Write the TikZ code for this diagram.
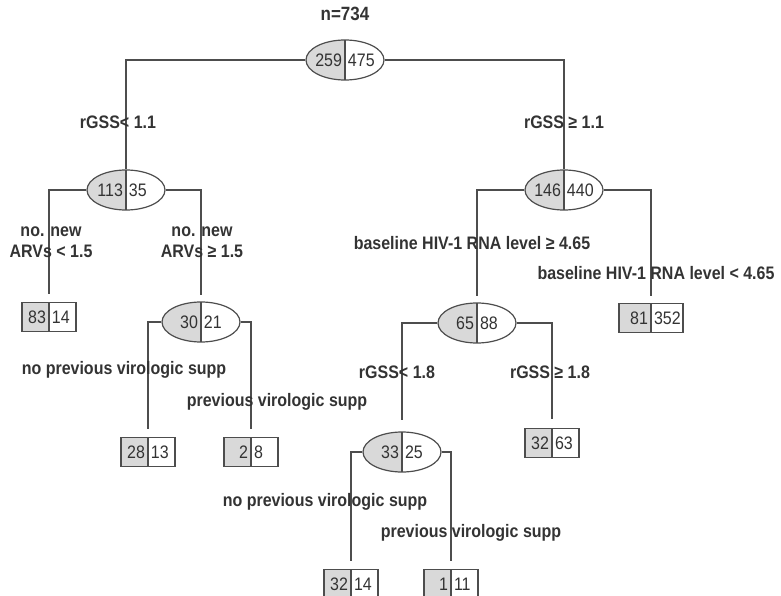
\documentclass[tikz,border=0pt]{standalone}
\usepackage{fontspec}
\usepackage{graphicx}
\setmainfont{Liberation Sans}
\usetikzlibrary{shapes.geometric}
\definecolor{ink}{HTML}{333333}
\definecolor{edgegrey}{HTML}{4D4D4D}
\definecolor{cellgrey}{HTML}{D9D9D9}
% the scan's letters stand a little taller than they are wide
\newcommand{\tall}[1]{\scalebox{1}[1.13]{#1}}
% two counts, split at the node's centre
\newcommand{\nums}[2]{\tall{\makebox[20pt][r]{#1\hspace{3pt}}\makebox[20pt][l]{\hspace{3pt}#2}}}
\newcommand{\twoline}[2]{\tall{\begin{tabular}{@{}c@{}}#1\\#2\end{tabular}}}
\tikzset{
  every node/.style={font=\fontsize{16}{18}\selectfont,text=ink},
  halves/.style={path picture={
    \fill[cellgrey] (path picture bounding box.south west) rectangle (path picture bounding box.north);
    \draw[edgegrey,line width=1.2pt] (path picture bounding box.south) -- (path picture bounding box.north);}},
  split/.style={ellipse,draw=edgegrey,fill=white,line width=1.2pt,halves,
    minimum width=78pt,minimum height=40pt,inner sep=0pt},
  leaf/.style={rectangle,draw=edgegrey,fill=white,line width=1.2pt,halves,
    minimum width=54pt,minimum height=29pt,inner sep=0pt},
  branch/.style={draw=edgegrey,line width=1.1pt},
  cut/.style={font=\fontsize{16}{18}\selectfont\bfseries,inner sep=0pt}}

\begin{document}
\begin{tikzpicture}[x=1pt,y=-1pt]
\useasboundingbox (0,0) rectangle (781,596);
% inner nodes
\node[cut,font=\fontsize{17}{20}\selectfont\bfseries] (total) at (345,14) {\tall{n=734}};
\node[split] (root) at (345,60) {\nums{259}{475}};
\node[split] (n113) at (126,190) {\nums{113}{35}};
\node[split] (n146) at (564,190) {\nums{146}{440}};
\node[split] (n30) at (201,322) {\nums{30}{21}};
\node[split] (n65) at (477,323) {\nums{65}{88}};
\node[split] (n33) at (402,452) {\nums{33}{25}};
% leaves
\node[leaf] (l83) at (49,317) {\nums{83}{14}};
\node[leaf,minimum width=64pt] (l81) at (651,318) {\nums{81}{352}};
\node[leaf] (l28) at (148,452) {\nums{28}{13}};
\node[leaf] (l2) at (251,452) {\nums{2}{8}};
\node[leaf] (l32b) at (552,443) {\nums{32}{63}};
\node[leaf] (l32) at (351,584) {\nums{32}{14}};
\node[leaf] (l1) at (451,584) {\nums{1}{11}};
% branches
\draw[branch] (root.west) -| (n113.north);
\draw[branch] (root.east) -| (n146.north);
\draw[branch,shorten >=8pt] (n113.west) -| (l83.north);
\draw[branch,shorten >=6pt] (n113.east) -| (n30.north);
\draw[branch,shorten >=6pt] (n146.west) -| (n65.north);
\draw[branch,shorten >=7pt] (n146.east) -| (l81.north);
\draw[branch,shorten >=8pt] (n30.west) -| (l28.north);
\draw[branch,shorten >=8pt] (n30.east) -| (l2.north);
\draw[branch,shorten >=11pt] (n65.west) -| (n33.north);
\draw[branch,shorten >=9pt] (n65.east) -| (l32b.north);
\draw[branch,shorten >=8pt] (n33.west) -| (l32.north);
\draw[branch,shorten >=8pt] (n33.east) -| (l1.north);
% split rules
\node[cut] (c1) at (118,122) {\tall{rGSS< 1.1}};
\node[cut] (c2) at (564,122) {\tall{rGSS ≥ 1.1}};
\node[cut] (c3) at (51,243) {\twoline{no. new}{ARVs < 1.5}};
\node[cut] (c4) at (202,243) {\twoline{no. new}{ARVs ≥ 1.5}};
\node[cut] (c5) at (472,243) {\tall{baseline HIV-1 RNA level ≥ 4.65}};
\node[cut] (c6) at (656,273) {\tall{baseline HIV-1 RNA level < 4.65}};
\node[cut] (c7) at (124,370) {\tall{no previous virologic supp}};
\node[cut] (c8) at (277,402) {\tall{previous virologic supp}};
\node[cut] (c9) at (397,372) {\tall{rGSS< 1.8}};
\node[cut] (c10) at (550,372) {\tall{rGSS ≥ 1.8}};
\node[cut] (c11) at (325,502) {\tall{no previous virologic supp}};
\node[cut] (c12) at (471,533) {\tall{previous virologic supp}};
\end{tikzpicture}
\end{document}
